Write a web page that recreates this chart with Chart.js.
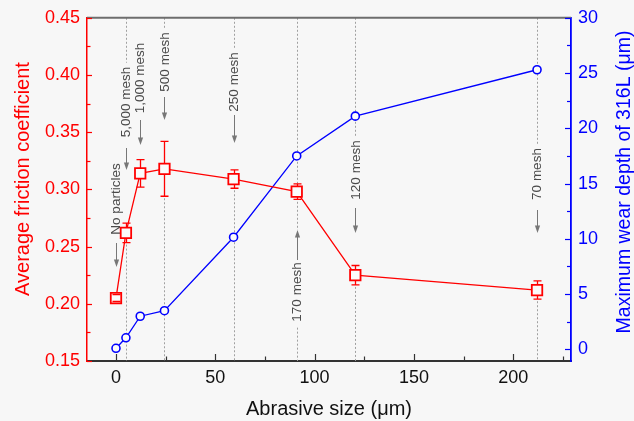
<!DOCTYPE html>
<html><head><meta charset="utf-8">
<script src="https://cdn.jsdelivr.net/npm/chart.js@4.4.0/dist/chart.umd.min.js"></script>
<style>html,body{margin:0;padding:0;background:#f7f7f7;}canvas{display:block;}</style>
</head><body>
<canvas id="c" width="634" height="421"></canvas>
<script>
// ---- data ----
const abrasiveSize = [0, 5, 12.2, 24.4, 59.2, 91, 120.5, 212];
const frictionCoef = [0.205, 0.262, 0.314, 0.318, 0.309, 0.298, 0.225, 0.212];
const frictionErr  = [0.003, 0.0085, 0.012, 0.024, 0.008, 0.0068, 0.0085, 0.008];
const wearDepth    = [0.1, 1.05, 3.0, 3.5, 10.15, 17.5, 21.1, 25.3];
const meshLabels   = ['No particles','5,000 mesh','1,000 mesh','500 mesh','250 mesh','170 mesh','120 mesh','70 mesh'];
const xTicks       = [0, 50, 100, 150, 200];
const frictionTicks= [0.15, 0.20, 0.25, 0.30, 0.35, 0.40, 0.45];
const wearTicks    = [0, 5, 10, 15, 20, 25, 30];

// ---- layout of annotations (pixels) ----
const annoLayout = [
  {textY:199, arrow:[243,267], line:false},
  {textY:102, arrow:[148,170], line:true},
  {textY:78,  arrow:[120,145], line:false},
  {textY:62,  arrow:[97,120],  line:true},
  {textY:82,  arrow:[115,143], line:true},
  {textY:292, arrow:[260,230], line:true, up:true},
  {textY:170, arrow:[208,233], line:true},
  {textY:174, arrow:[210,233], line:true}
];
const FAM = '"Liberation Sans", Arial, sans-serif';
const RED = '#ff0000', BLUE = '#0000ff';

const bgPlugin = {
  id:'bg',
  beforeDraw(chart){
    const c = chart.ctx; c.save(); c.fillStyle='#f7f7f7';
    c.fillRect(0,0,chart.width,chart.height); c.restore();
  }
};

function arrow(c, x, y0, y1){
  c.strokeStyle='#777'; c.fillStyle='#777'; c.lineWidth=1;
  const dir = Math.sign(y1-y0);
  c.beginPath(); c.moveTo(x, y0); c.lineTo(x, y1 - dir*6); c.stroke();
  c.beginPath(); c.moveTo(x, y1); c.lineTo(x-2.6, y1-dir*7.5); c.lineTo(x+2.6, y1-dir*7.5); c.closePath(); c.fill();
}

const annoPlugin = {
  id:'anno',
  beforeDatasetsDraw(chart){
    const c = chart.ctx, ca = chart.chartArea, x = chart.scales.x, y = chart.scales.y;
    c.save();
    c.font = '13.5px ' + FAM;
    meshLabels.forEach((lab,i)=>{
      const L = annoLayout[i];
      const px = x.getPixelForValue(abrasiveSize[i]);
      const xx = Math.round(px) + 0.5;
      const tw = c.measureText(lab).width;
      const tTop = L.textY - tw/2, tBot = L.textY + tw/2;
      if (L.line){
        c.strokeStyle='#a0a0a0'; c.lineWidth=1; c.setLineDash([2,2]);
        c.beginPath();
        if (L.up){
          c.moveTo(xx, ca.top); c.lineTo(xx, L.arrow[1]);
          c.moveTo(xx, tBot+6); c.lineTo(xx, ca.bottom);
        } else {
          c.moveTo(xx, ca.top); c.lineTo(xx, tTop-4);
          const eb = y.getPixelForValue(frictionCoef[i]-frictionErr[i]);
          c.moveTo(xx, eb+2); c.lineTo(xx, ca.bottom);
        }
        c.stroke(); c.setLineDash([]);
      }
      c.save(); c.translate(px, L.textY); c.rotate(-Math.PI/2);
      c.fillStyle='#4a4a4a'; c.textAlign='center'; c.textBaseline='middle';
      c.fillText(lab, 0, 0.5);
      c.restore();
      arrow(c, xx, L.arrow[0], L.arrow[1]);
    });
    c.restore();
  },
  afterDatasetsDraw(chart){
    const c = chart.ctx, ca = chart.chartArea, x = chart.scales.x, y = chart.scales.y, y1 = chart.scales.y1;
    c.save();
    // error bars
    const half = 5.4;
    c.strokeStyle = RED; c.lineWidth = 1.3;
    abrasiveSize.forEach((s,i)=>{
      const px = Math.round(x.getPixelForValue(s))+0.5;
      const pc = y.getPixelForValue(frictionCoef[i]);
      const pt = y.getPixelForValue(frictionCoef[i]+frictionErr[i]);
      const pb = y.getPixelForValue(frictionCoef[i]-frictionErr[i]);
      c.beginPath();
      if (pc - pt > half){ c.moveTo(px, pc-half); c.lineTo(px, pt); c.moveTo(px, pb); c.lineTo(px, pc+half); }
      c.moveTo(px-4, pt); c.lineTo(px+4, pt);
      c.moveTo(px-4, pb); c.lineTo(px+4, pb);
      c.stroke();
    });
    // top frame
    c.strokeStyle='#6e6e6e'; c.lineWidth=2;
    c.beginPath(); c.moveTo(ca.left, ca.top); c.lineTo(ca.right, ca.top); c.stroke();
    // inward ticks
    c.lineWidth=1.2;
    c.strokeStyle='#333';
    xTicks.forEach((v,k)=>{
      const p = Math.round(x.getPixelForValue(v))+0.5;
      c.beginPath(); c.moveTo(p, ca.bottom); c.lineTo(p, ca.bottom-7); c.stroke();
      const m = Math.round(x.getPixelForValue(v+25))+0.5;
      if (m < ca.right){ c.beginPath(); c.moveTo(m, ca.bottom); c.lineTo(m, ca.bottom-4.5); c.stroke(); }
    });
    c.strokeStyle=RED;
    frictionTicks.forEach((v,k)=>{
      const p = Math.round(y.getPixelForValue(v))+0.5;
      c.beginPath(); c.moveTo(ca.left, p); c.lineTo(ca.left+5, p); c.stroke();
      if (k < frictionTicks.length-1){
        const m = Math.round(y.getPixelForValue((v+frictionTicks[k+1])/2))+0.5;
        c.beginPath(); c.moveTo(ca.left, m); c.lineTo(ca.left+3.5, m); c.stroke();
      }
    });
    c.strokeStyle=BLUE;
    wearTicks.forEach((v,k)=>{
      const p = Math.round(y1.getPixelForValue(v))+0.5;
      c.beginPath(); c.moveTo(ca.right, p); c.lineTo(ca.right-6, p); c.stroke();
      if (k < wearTicks.length-1){
        const m = Math.round(y1.getPixelForValue((v+wearTicks[k+1])/2))+0.5;
        c.beginPath(); c.moveTo(ca.right, m); c.lineTo(ca.right-4, m); c.stroke();
      }
    });
    // y titles
    c.textAlign='center'; c.textBaseline='middle';
    c.font = '20px ' + FAM; c.fillStyle = RED;
    c.save(); c.translate(23, 179); c.rotate(-Math.PI/2); c.fillText('Average friction coefficient',0,0); c.restore();
    c.font = '19.5px ' + FAM; c.fillStyle = BLUE;
    c.save(); c.translate(625, 182); c.rotate(-Math.PI/2); c.fillText('Maximum wear depth of 316L (μm)',0,0); c.restore();
    c.restore();
  }
};

new Chart(document.getElementById('c'), {
  type:'line',
  data:{
    datasets:[
      {label:'Average friction coefficient', yAxisID:'y',
       data: abrasiveSize.map((s,i)=>({x:s, y:frictionCoef[i]})),
       borderColor:RED, borderWidth:1.3, backgroundColor:'#fbfbfb',
       pointStyle:'rect', pointRadius:7.4, pointBorderWidth:1.8, pointBorderColor:RED, pointBackgroundColor:'#fbfbfb'},
      {label:'Maximum wear depth', yAxisID:'y1',
       data: abrasiveSize.map((s,i)=>({x:s, y:wearDepth[i]})),
       borderColor:BLUE, borderWidth:1.3, backgroundColor:'#fbfbfb',
       pointStyle:'circle', pointRadius:4, pointBorderWidth:1.6, pointBorderColor:BLUE, pointBackgroundColor:'#fbfbfb'}
    ]
  },
  options:{
    responsive:false, animation:false, devicePixelRatio:1,
    layout:{padding:{top:17, left:0, right:0, bottom:0}},
    plugins:{legend:{display:false}, tooltip:{enabled:false}},
    scales:{
      x:{type:'linear', min:-14.6, max:229.1,
         afterBuildTicks:s=>{ s.ticks = xTicks.map(v=>({value:v})); },
         afterFit:s=>{ s.height = 60; },
         grid:{display:false, drawTicks:false},
         border:{display:true, color:'#333', width:2},
         ticks:{color:'#111', font:{size:18, family:FAM}, padding:6, maxRotation:0, autoSkip:false},
         title:{display:true, text:'Abrasive size (μm)', color:'#111', font:{size:20, family:FAM}, padding:{top:0,bottom:0}}},
      y:{type:'linear', position:'left', min:0.15, max:0.45,
         afterBuildTicks:s=>{ s.ticks = frictionTicks.map(v=>({value:v})); },
         afterFit:s=>{ s.width = 87; },
         grid:{display:false, drawTicks:false},
         border:{display:true, color:RED, width:1.5},
         ticks:{color:RED, font:{size:18, family:FAM}, padding:7, callback:v=>v.toFixed(2)}},
      y1:{type:'linear', position:'right', min:-1.05, max:30,
         afterBuildTicks:s=>{ s.ticks = wearTicks.map(v=>({value:v})); },
         afterFit:s=>{ s.width = 63; },
         grid:{display:false, drawTicks:false},
         border:{display:true, color:BLUE, width:1.8},
         ticks:{color:BLUE, font:{size:18, family:FAM}, padding:7}}
    }
  },
  plugins:[bgPlugin, annoPlugin]
});
</script>
</body></html>
